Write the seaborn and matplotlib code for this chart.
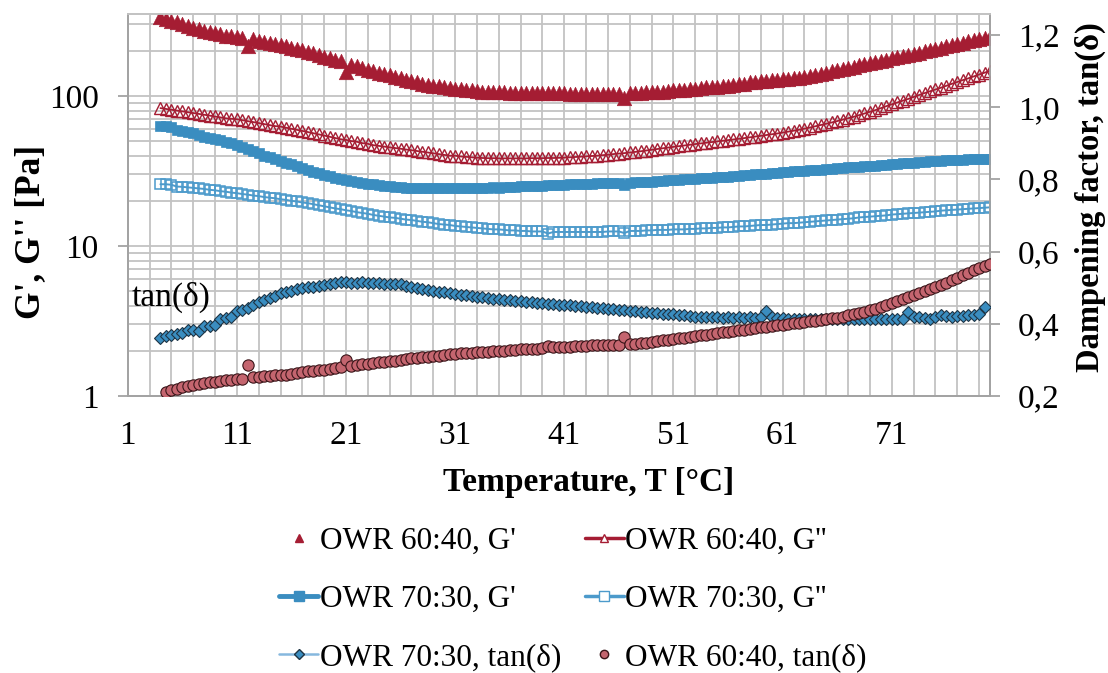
import numpy as np
import pandas as pd
import matplotlib
matplotlib.use("Agg")
import matplotlib.pyplot as plt
from matplotlib.lines import Line2D
from matplotlib.ticker import FixedLocator, FixedFormatter, LogLocator, NullFormatter
import seaborn as sns

nan = float("nan")

# ---------------- data ----------------
temperature = [
    4.0, 4.5, 5.0, 5.5, 6.0, 6.5, 7.0, 7.5, 8.0, 8.5,
    9.0, 9.5, 10.0, 10.5, 11.0, 11.5, 12.0, 12.5, 13.0, 13.5,
    14.0, 14.5, 15.0, 15.5, 16.0, 16.5, 17.0, 17.5, 18.0, 18.5,
    19.0, 19.5, 20.0, 20.5, 21.0, 21.5, 22.0, 22.5, 23.0, 23.5,
    24.0, 24.5, 25.0, 25.5, 26.0, 26.5, 27.0, 27.5, 28.0, 28.5,
    29.0, 29.5, 30.0, 30.5, 31.0, 31.5, 32.0, 32.5, 33.0, 33.5,
    34.0, 34.5, 35.0, 35.5, 36.0, 36.5, 37.0, 37.5, 38.0, 38.5,
    39.0, 39.5, 40.0, 40.5, 41.0, 41.5, 42.0, 42.5, 43.0, 43.5,
    44.0, 44.5, 45.0, 45.5, 46.0, 46.5, 47.0, 47.5, 48.0, 48.5,
    49.0, 49.5, 50.0, 50.5, 51.0, 51.5, 52.0, 52.5, 53.0, 53.5,
    54.0, 54.5, 55.0, 55.5, 56.0, 56.5, 57.0, 57.5, 58.0, 58.5,
    59.0, 59.5, 60.0, 60.5, 61.0, 61.5, 62.0, 62.5, 63.0, 63.5,
    64.0, 64.5, 65.0, 65.5, 66.0, 66.5, 67.0, 67.5, 68.0, 68.5,
    69.0, 69.5, 70.0, 70.5, 71.0, 71.5, 72.0, 72.5, 73.0, 73.5,
    74.0, 74.5, 75.0, 75.5, 76.0, 76.5, 77.0, 77.5, 78.0, 78.5,
    79.0, 79.5, 80.0,
]

g1_6040 = [  # OWR 60:40, G' [Pa]
    336, 326, 318, 310, 302, 294, 286, 278, 272, 266,
    261, 257, 253, 250, 247, 244, 216, 238, 234, 230,
    226, 222, 218, 214, 210, 206, 202, 197, 192, 188,
    183, 179, 175, 170, 145, 162, 158, 154, 150, 147,
    143, 140, 137, 134, 131, 128, 125, 123, 121, 119,
    117, 116, 114, 113, 112, 111, 110, 109, 108, 107,
    107, 106, 106, 106, 105, 105, 105, 105, 105, 104,
    104, 104, 104, 104, 104, 103, 103, 103, 103, 103,
    103, 103, 103, 103, 103, 97, 104, 105, 105, 106,
    106, 107, 107, 108, 109, 110, 110, 111, 112, 113,
    114, 114, 115, 116, 117, 118, 120, 121, 123, 124,
    125, 126, 127, 128, 129, 130, 131, 132, 134, 136,
    138, 140, 143, 146, 148, 151, 154, 157, 160, 163,
    166, 169, 172, 175, 178, 182, 185, 188, 191, 194,
    198, 202, 206, 210, 214, 218, 222, 226, 231, 235,
    240, 243, 246,
]

g2_6040 = [  # OWR 60:40, G'' [Pa]
    83, 82, 81, 80, 79, 78, 77, 76, 75, 74,
    73, 72, 71, 70.5, 70, 69, 68, 67, 66, 65,
    64, 63, 62.5, 61.5, 60.5, 59.5, 58.5, 57.5, 56.5, 55.5,
    54.5, 53.5, 52.5, 51.5, 51, 50, 49.5, 48.5, 48, 47,
    46.5, 46, 45.5, 45, 44.5, 44, 43.5, 43, 42.5, 42,
    41.5, 41, 40.5, 40, 40, 39.5, 39.3, 39, 38.8, 38.6,
    38.5, 38.5, 38.4, 38.4, 38.4, 38.4, 38.4, 38.4, 38.5, 38.5,
    38.5, 38.6, 38.6, 38.7, 38.8, 39.0, 39.2, 39.4, 39.6, 39.8,
    40.0, 40.3, 40.6, 41.0, 41.3, 41.6, 42.0, 42.4, 42.8, 43.3,
    43.8, 44.3, 44.8, 45.3, 45.8, 46.3, 46.8, 47.3, 47.8, 48.3,
    48.8, 49.3, 49.8, 50.3, 50.8, 51.3, 51.8, 52.4, 53.0, 53.6,
    54.2, 54.8, 55.5, 56.2, 57.0, 57.8, 58.6, 59.5, 60.5, 61.6,
    62.8, 64.0, 65.3, 66.6, 68.0, 69.5, 71.0, 72.6, 74.5, 76.5,
    78.5, 80.5, 83, 85.5, 88, 90.5, 93, 95.5, 98.5, 101.5,
    104.5, 107.5, 110.5, 113.5, 117, 120.5, 124, 127.5, 131, 135,
    139, 143, 147,
]

g1_7030 = [  # OWR 70:30, G' [Pa]
    63, 63, 62, 59, 58.5, 57.5, 56.5, 55, 53.5, 52.5,
    51.5, 50.5, 49.5, 48.5, 47, 45.5, 44, 43, 41.5, 40,
    39, 38, 37, 36, 35, 34, 33, 32, 31.2, 30.5,
    29.8, 29.1, 28.5, 28, 27.5, 27, 26.6, 26.3, 26, 25.7,
    25.4, 25.2, 25.0, 24.8, 24.6, 24.5, 24.4, 24.3, 24.3, 24.2,
    24.2, 24.3, 24.2, 24.3, 24.4, 24.3, 24.3, 24.4, 24.4, 24.5,
    24.5, 24.6, 24.5, 24.7, 24.8, 24.8, 25.0, 25.0, 25.1, 25.2,
    25.2, 25.4, 25.5, 25.5, 25.6, 25.8, 25.8, 25.9, 26.0, 26.0,
    26.1, 26.2, 26.2, 26.3, 26.4, 25.6, 26.5, 26.6, 26.7, 26.8,
    26.9, 27.1, 27.2, 27.4, 27.5, 27.6, 27.8, 27.9, 28.1, 28.2,
    28.4, 28.5, 28.7, 28.9, 29.0, 29.2, 29.4, 29.6, 29.8, 30.0,
    30.2, 30.4, 30.6, 30.8, 31.0, 31.2, 31.4, 31.5, 31.7, 31.9,
    32.1, 32.3, 32.5, 32.7, 33.0, 33.2, 33.4, 33.6, 33.8, 34.0,
    34.2, 34.4, 34.6, 34.9, 35.1, 35.3, 35.5, 35.7, 35.9, 36.1,
    36.4, 36.6, 36.8, 37.0, 37.2, 37.4, 37.6, 37.7, 37.8, 37.9,
    38.0, 38.0, 38.0,
]

g2_7030 = [  # OWR 70:30, G'' [Pa]
    25.8, 25.8, 25.6, 24.9, 24.8, 24.6, 24.4, 24.2, 24.0, 23.7,
    23.5, 23.2, 23.0, 22.7, 22.5, 22.2, 22.0, 21.7, 21.5, 21.2,
    21.0, 20.8, 20.5, 20.3, 20.0, 19.8, 19.5, 19.3, 19.0, 18.7,
    18.4, 18.1, 17.8, 17.6, 17.3, 17.1, 16.8, 16.6, 16.4, 16.1,
    15.9, 15.7, 15.5, 15.4, 15.2, 15.0, 14.9, 14.7, 14.5, 14.4,
    14.2, 14.0, 13.9, 13.8, 13.6, 13.5, 13.4, 13.3, 13.2, 13.1,
    13.0, 12.9, 12.9, 12.8, 12.7, 12.7, 12.6, 12.6, 12.5, 12.5,
    12.5, 12.1, 12.4, 12.4, 12.4, 12.4, 12.4, 12.4, 12.4, 12.4,
    12.4, 12.4, 12.5, 12.5, 12.5, 12.2, 12.6, 12.6, 12.6, 12.7,
    12.7, 12.8, 12.8, 12.8, 12.9, 12.9, 12.9, 13.0, 13.0, 13.1,
    13.1, 13.2, 13.2, 13.3, 13.3, 13.4, 13.5, 13.5, 13.6, 13.7,
    13.8, 13.8, 13.9, 14.0, 14.1, 14.2, 14.2, 14.3, 14.4, 14.5,
    14.6, 14.7, 14.8, 14.9, 15.0, 15.1, 15.2, 15.3, 15.5, 15.6,
    15.7, 15.8, 15.9, 16.0, 16.2, 16.3, 16.4, 16.5, 16.6, 16.7,
    16.8, 16.9, 17.0, 17.2, 17.3, 17.4, 17.5, 17.6, 17.7, 17.8,
    17.9, 18.0, 18.1,
]

tan_7030 = [  # OWR 70:30, tan(delta)
    0.360, 0.365, 0.368, 0.372, 0.375, 0.382, 0.384, 0.380, 0.393, 0.394,
    0.396, 0.414, 0.416, 0.418, 0.435, 0.437, 0.445, 0.452, 0.460, 0.466,
    0.472, 0.478, 0.484, 0.489, 0.492, 0.495, 0.498, 0.501, 0.503, 0.505,
    0.508, 0.511, 0.514, 0.515, 0.515, 0.514, 0.514, 0.515, 0.513, 0.512,
    0.512, 0.511, 0.510, 0.509, 0.511, 0.506, 0.503, 0.500, 0.497, 0.494,
    0.491, 0.489, 0.489, 0.486, 0.483, 0.480, 0.479, 0.477, 0.475, 0.473,
    0.472, 0.469, 0.468, 0.467, 0.465, 0.463, 0.462, 0.461, 0.459, 0.458,
    0.457, 0.456, 0.455, 0.453, 0.452, 0.451, 0.450, 0.448, 0.447, 0.446,
    0.444, 0.443, 0.442, 0.440, 0.439, 0.438, 0.436, 0.435, 0.434, 0.432,
    0.431, 0.430, 0.428, 0.427, 0.426, 0.424, 0.423, 0.422, 0.420, 0.419,
    0.420, 0.418, 0.419, 0.417, 0.418, 0.417, 0.418, 0.416, 0.418, 0.417,
    0.418, 0.436, 0.420, 0.416, 0.415, 0.414, 0.414, 0.413, 0.414, 0.413,
    0.412, 0.413, 0.414, 0.412, 0.413, 0.412, 0.414, 0.413, 0.412, 0.413,
    0.414, 0.412, 0.413, 0.414, 0.413, 0.414, 0.413, 0.434, 0.419, 0.418,
    0.415, 0.413, 0.418, 0.425, 0.421, 0.420, 0.422, 0.421, 0.425, 0.424,
    0.426, 0.447, nan,
]

tan_6040 = [  # OWR 60:40, tan(delta)
    nan, 0.212, 0.216, 0.220, 0.225, 0.228, 0.231, 0.234, 0.236, 0.238,
    0.240, 0.241, 0.243, 0.244, 0.246, 0.248, 0.286, 0.253, 0.254, 0.255,
    0.256, 0.257, 0.258, 0.259, 0.261, 0.263, 0.266, 0.268, 0.270, 0.272,
    0.273, 0.275, 0.277, 0.279, 0.300, 0.284, 0.286, 0.288, 0.290, 0.291,
    0.293, 0.295, 0.297, 0.298, 0.300, 0.302, 0.304, 0.305, 0.307, 0.309,
    0.311, 0.312, 0.314, 0.316, 0.317, 0.318, 0.319, 0.320, 0.321, 0.322,
    0.323, 0.324, 0.325, 0.326, 0.327, 0.328, 0.329, 0.330, 0.331, 0.331,
    0.332, 0.338, 0.335, 0.336, 0.337, 0.337, 0.338, 0.338, 0.339, 0.340,
    0.340, 0.341, 0.341, 0.342, 0.342, 0.363, 0.344, 0.345, 0.347, 0.348,
    0.350, 0.352, 0.354, 0.356, 0.358, 0.360, 0.362, 0.364, 0.366, 0.368,
    0.370, 0.372, 0.374, 0.376, 0.378, 0.380, 0.382, 0.384, 0.386, 0.388,
    0.390, 0.392, 0.394, 0.396, 0.398, 0.400, 0.401, 0.403, 0.405, 0.407,
    0.409, 0.411, 0.413, 0.415, 0.417, 0.420, 0.423, 0.426, 0.429, 0.433,
    0.437, 0.441, 0.446, 0.451, 0.457, 0.463, 0.469, 0.475, 0.481, 0.486,
    0.491, 0.496, 0.502, 0.508, 0.514, 0.520, 0.527, 0.534, 0.541, 0.548,
    0.555, 0.561, 0.566,
]

series_labels = ["OWR 60:40, G'", "OWR 60:40, G''", "OWR 70:30, G'",
                 "OWR 70:30, G''", "OWR 70:30, tan(δ)", "OWR 60:40, tan(δ)"]
x_ticks = [1, 11, 21, 31, 41, 51, 61, 71]
x_minor = [3, 5, 7, 9, 13, 15, 17, 19, 23, 25, 27, 29, 33, 35, 37, 39, 43, 45, 47, 49,
           53, 55, 57, 59, 63, 65, 67, 69, 73, 75, 77, 79]
left_ticks = [1, 10, 100]
left_tick_labels = ["1", "10", "100"]
right_ticks = [0.2, 0.4, 0.6, 0.8, 1.0, 1.2]
right_tick_labels = ["0,2", "0,4", "0,6", "0,8", "1,0", "1,2"]

df = pd.DataFrame({
    "T": temperature,
    "g1_6040": g1_6040, "g2_6040": g2_6040,
    "g1_7030": g1_7030, "g2_7030": g2_7030,
    "tan_7030": tan_7030, "tan_6040": tan_6040,
})

# ---------------- style ----------------
sns.set_theme(style="white")
plt.rcParams["font.family"] = ["Liberation Serif", "DejaVu Serif"]
plt.rcParams["axes.unicode_minus"] = False
plt.rcParams["text.color"] = "black"
plt.rcParams["axes.labelcolor"] = "black"
plt.rcParams["xtick.color"] = "black"
plt.rcParams["ytick.color"] = "black"

RED = "#A51D33"
BLUE = "#3A8DC0"
BLUE2 = "#4C9ACB"
LBLUE = "#86B8DE"
PINK = "#C4656F"
GRID = "#C3C3C3"
SPINE = "#A3A3A3"

fig = plt.figure(figsize=(11.08, 6.73), dpi=100)
ax = fig.add_axes([0.11525, 0.41159, 0.77825, 0.56761])
ax2 = ax.twinx()

# ---------------- left axis series ----------------
sns.lineplot(data=df, x="T", y="g2_7030", ax=ax, estimator=None, sort=False,
             color=BLUE2, linewidth=1.4, marker="s", markersize=7.5,
             markerfacecolor="none", markeredgecolor=BLUE2, markeredgewidth=1.1, zorder=3)
sns.lineplot(data=df, x="T", y="g1_7030", ax=ax, estimator=None, sort=False,
             color=BLUE, linewidth=3, marker="s", markersize=7.8,
             markerfacecolor=BLUE, markeredgecolor=BLUE, markeredgewidth=0.5, zorder=3)
sns.lineplot(data=df, x="T", y="g2_6040", ax=ax, estimator=None, sort=False,
             color=RED, linewidth=1.3, marker="^", markersize=9,
             markerfacecolor="none", markeredgecolor=RED, markeredgewidth=1.0, zorder=3)
sns.scatterplot(data=df, x="T", y="g1_6040", ax=ax, marker="^", s=110,
                color=RED, edgecolor=RED, linewidth=0.4, zorder=4)

# ---------------- right axis series ----------------
sns.lineplot(data=df, x="T", y="tan_7030", ax=ax2, estimator=None, sort=False,
             color=LBLUE, linewidth=1.0, marker="D", markersize=6,
             markerfacecolor=BLUE, markeredgecolor="#1E3445", markeredgewidth=0.8, zorder=3)
sns.scatterplot(data=df, x="T", y="tan_6040", ax=ax2, marker="o", s=66,
                color=PINK, edgecolor="#3A1519", linewidth=0.8, zorder=4)

# ---------------- axes setup ----------------
ax.set_yscale("log")
ax.set_xlim(1, 80)
ax.set_ylim(1, 352)
ax2.set_ylim(0.2, 1.258)

ax.xaxis.set_major_locator(FixedLocator(x_ticks))
ax.xaxis.set_minor_locator(FixedLocator(x_minor))
ax.xaxis.set_major_formatter(FixedFormatter([str(v) for v in x_ticks]))
ax.yaxis.set_major_locator(FixedLocator(left_ticks))
ax.yaxis.set_major_formatter(FixedFormatter(left_tick_labels))
ax.yaxis.set_minor_locator(LogLocator(base=10, subs=[2, 3, 4, 5, 6, 7, 8, 9]))
ax.yaxis.set_minor_formatter(NullFormatter())
ax2.yaxis.set_major_locator(FixedLocator(right_ticks))
ax2.yaxis.set_major_formatter(FixedFormatter(right_tick_labels))

ax.grid(True, which="both", axis="both", color=GRID, linewidth=1.3)
ax2.grid(False)
ax.set_axisbelow(True)

ax.tick_params(axis="x", which="major", direction="out", length=7, width=1.3,
               color=SPINE, labelsize=24, labelcolor="black", pad=11)
ax.tick_params(axis="y", which="major", direction="out", length=7, width=1.3,
               color=SPINE, labelsize=24, labelcolor="black", pad=14)
ax.tick_params(axis="both", which="minor", length=0)
ax2.tick_params(axis="y", which="major", direction="out", length=7, width=1.3,
                color=SPINE, labelsize=24, labelcolor="black", pad=13, right=True)
ax2.tick_params(axis="y", which="minor", length=0)

for a in (ax, ax2):
    for side in ("left", "bottom", "right"):
        a.spines[side].set_color(SPINE)
        a.spines[side].set_linewidth(1.3)
    a.spines["top"].set_color(GRID)
    a.spines["top"].set_linewidth(1.3)

ax.set_xlabel("Temperature, T [°C]", fontsize=24, fontweight="bold", color="black")
ax.xaxis.set_label_coords(0.534, -0.185)
ax.set_ylabel("G', G'' [Pa]", fontsize=25.5, fontweight="bold", color="black")
ax.yaxis.set_label_coords(-0.094, 0.43)
ax2.set_ylabel("Dampening factor, tan(δ)", fontsize=23.5, fontweight="bold", color="black")
ax2.yaxis.set_label_coords(1.098, 0.52)

ax.text(0.004, 0.259, "tan(δ)", transform=ax.transAxes, fontsize=24,
        ha="left", va="center", color="black")

# ---------------- legend ----------------
h_g1_6040 = Line2D([], [], linestyle="none", marker="^", markersize=6,
                   markerfacecolor=RED, markeredgecolor=RED)
h_g2_6040 = Line2D([], [], color=RED, linewidth=2.5, marker="^", markersize=6,
                   markerfacecolor="white", markeredgecolor=RED)
h_g1_7030 = Line2D([], [], color=BLUE, linewidth=3.5, marker="s", markersize=7,
                   markerfacecolor=BLUE, markeredgecolor=BLUE)
h_g2_7030 = Line2D([], [], color=BLUE2, linewidth=2.5, marker="s", markersize=7,
                   markerfacecolor="white", markeredgecolor=BLUE2)
h_tan_7030 = Line2D([], [], color=LBLUE, linewidth=1.8, marker="D", markersize=5.5,
                    markerfacecolor=BLUE, markeredgecolor="#1E3445")
h_tan_6040 = Line2D([], [], linestyle="none", marker="o", markersize=6,
                    markerfacecolor=PINK, markeredgecolor="#3A1519")

handles = [h_g1_6040, h_g1_7030, h_tan_7030, h_g2_6040, h_g2_7030, h_tan_6040]
labels = [series_labels[0], series_labels[2], series_labels[4],
          series_labels[1], series_labels[3], series_labels[5]]
leg = fig.legend(handles, labels, ncol=2, loc="upper left",
                 bbox_to_anchor=(0.252, 0.217), frameon=False, fontsize=22.5,
                 handlelength=1.25, handletextpad=0.05, columnspacing=0.75,
                 labelspacing=0.93, borderpad=0, borderaxespad=0)
for t in leg.get_texts():
    t.set_color("black")

fig.savefig("out.png", dpi=100)
